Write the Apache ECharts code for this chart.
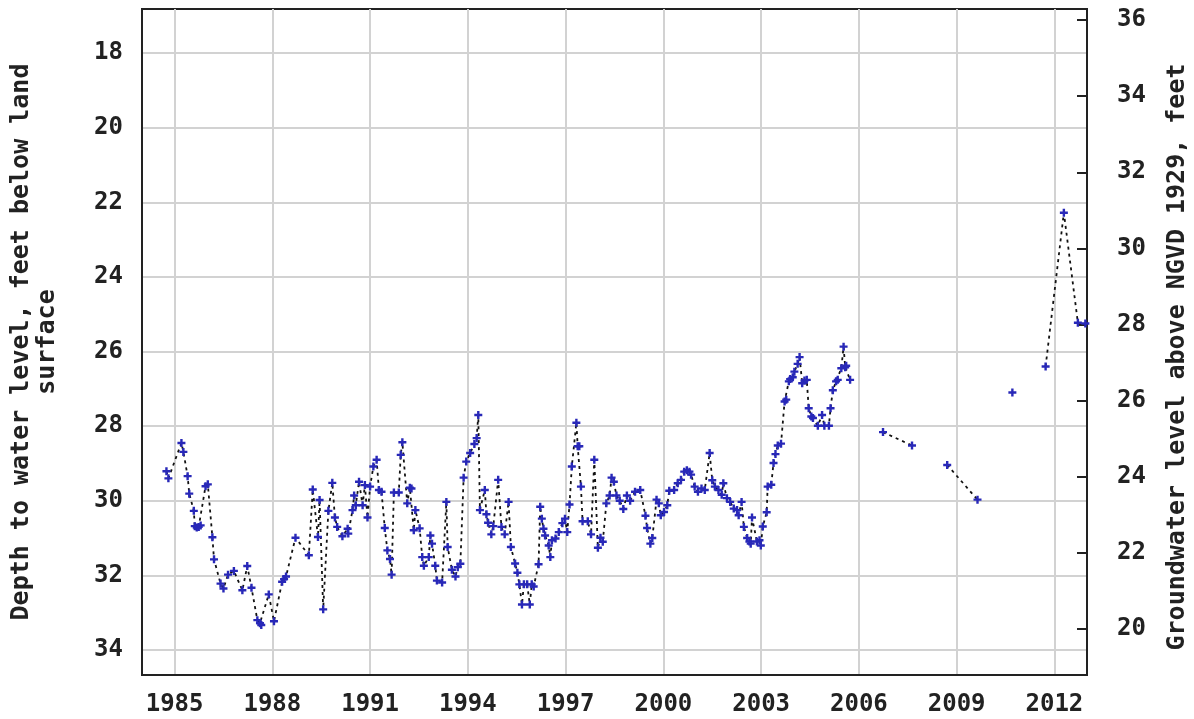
<!DOCTYPE html>
<html>
<head>
<meta charset="utf-8">
<script src="https://cdn.jsdelivr.net/npm/echarts@6/dist/echarts.min.js"></script>
<style>
html,body{margin:0;padding:0;background:#fff;}
#chart{width:1194px;height:719px;}
</style>
</head>
<body>
<div id="chart"></div>
<script>
// Decimal years of measurements (null marks a gap in the record)
const years = [
 1984.75,1984.81,1985.21,1985.27,1985.40,1985.45,1985.59,1985.62,1985.68,1985.74,1985.80,1985.95,1986.02,
 1986.16,1986.21,1986.41,1986.50,1986.64,1986.82,1987.08,1987.23,1987.36,1987.54,1987.62,1987.66,1987.89,
 1988.05,1988.30,1988.36,1988.42,1988.71,1989.12,1989.24,1989.40,1989.45,1989.56,1989.72,1989.84,1989.92,
 1989.99,1990.15,1990.31,1990.33,1990.46,1990.51,1990.56,1990.66,1990.77,1990.84,1990.92,1991.00,1991.10,
 1991.20,1991.27,1991.35,1991.45,1991.53,1991.61,1991.66,1991.73,1991.88,1991.94,1991.99,1992.14,1992.22,
 1992.27,1992.34,1992.39,1992.52,1992.60,1992.65,1992.80,1992.85,1992.90,1993.00,1993.05,1993.21,1993.34,
 1993.38,1993.51,1993.62,1993.69,1993.77,1993.87,1993.95,1994.07,1994.20,1994.27,1994.32,1994.37,1994.52,
 1994.57,1994.62,1994.72,1994.78,1994.93,1995.03,1995.13,1995.25,1995.32,1995.45,1995.52,1995.58,1995.66,
 1995.72,1995.82,1995.90,1995.96,1996.02,1996.17,1996.22,1996.27,1996.32,1996.37,1996.48,1996.53,1996.58,
 1996.69,1996.79,1996.90,1996.98,1997.05,1997.12,1997.19,1997.33,1997.37,1997.42,1997.47,1997.52,1997.68,
 1997.78,1997.88,1997.99,1998.07,1998.14,1998.25,1998.35,1998.41,1998.48,1998.56,1998.66,1998.77,1998.88,
 1998.98,1999.13,1999.29,1999.45,1999.50,1999.60,1999.66,1999.79,1999.86,1999.92,2000.02,2000.12,2000.18,
 2000.33,2000.44,2000.54,2000.64,2000.72,2000.80,2000.85,2000.96,2001.06,2001.17,2001.27,2001.42,2001.50,
 2001.58,2001.69,2001.79,2001.84,2001.95,2002.05,2002.16,2002.26,2002.31,2002.40,2002.47,2002.57,2002.64,
 2002.68,2002.72,2002.87,2002.95,2002.99,2003.05,2003.17,2003.20,2003.31,2003.38,2003.44,2003.51,2003.61,
 2003.72,2003.77,2003.85,2003.89,2003.97,2004.02,2004.12,2004.18,2004.26,2004.33,2004.40,2004.46,2004.54,
 2004.59,2004.74,2004.87,2004.94,2005.08,2005.13,2005.20,2005.30,2005.35,2005.46,2005.53,2005.58,2005.61,
 2005.73,null,2006.74,2007.63,null,2008.71,2009.64,null,2010.71,null,2011.73,2012.29,2012.72,2012.95
];
// Depth to water level, feet below land surface
const depths = [
 29.21,29.40,28.45,28.69,29.34,29.81,30.27,30.68,30.72,30.70,30.66,29.61,29.56,
 30.98,31.57,32.22,32.35,31.98,31.88,32.40,31.75,32.33,33.20,33.28,33.33,32.51,
 33.23,32.17,32.10,32.03,30.99,31.46,29.70,30.97,29.98,32.91,30.27,29.52,30.45,
 30.70,30.95,30.75,30.88,30.25,29.86,30.12,29.49,30.12,29.58,30.45,29.62,29.08,
 28.90,29.71,29.76,30.73,31.33,31.56,31.98,29.78,29.78,28.77,28.43,30.07,29.65,
 29.67,30.79,30.25,30.74,31.51,31.74,31.51,30.93,31.15,31.74,32.14,32.19,30.03,
 31.24,31.85,32.03,31.78,31.69,29.38,28.95,28.72,28.48,28.32,27.70,30.25,29.71,
 30.36,30.59,30.90,30.68,29.44,30.70,30.90,30.03,31.24,31.68,31.93,32.24,32.78,
 32.24,32.24,32.78,32.24,32.30,31.70,30.16,30.48,30.75,30.93,31.20,31.51,31.06,
 31.01,30.84,30.60,30.48,30.84,30.10,29.08,27.91,28.54,28.54,29.62,30.55,30.55,
 30.90,28.90,31.26,30.99,31.10,30.07,29.86,29.38,29.49,29.86,30.00,30.22,29.86,
 30.00,29.76,29.71,30.40,30.73,31.15,31.00,29.97,30.07,30.39,30.30,30.12,29.73,
 29.71,29.53,29.44,29.22,29.18,29.22,29.30,29.62,29.76,29.67,29.71,28.72,29.45,
 29.62,29.71,29.84,29.53,29.93,30.03,30.21,30.25,30.39,30.03,30.70,31.00,31.09,
 31.15,30.45,31.09,31.06,31.20,30.69,30.31,29.62,29.57,28.99,28.75,28.52,28.47,
 27.34,27.29,26.80,26.74,26.69,26.54,26.33,26.15,26.85,26.78,26.76,27.52,27.74,
 27.78,27.99,27.70,27.99,27.99,27.52,27.04,26.80,26.76,26.45,25.87,26.42,26.38,
 26.76,null,28.16,28.52,null,29.04,29.97,null,27.10,null,26.40,22.28,25.23,25.25
];
const yearTicks = [1985,1988,1991,1994,1997,2000,2003,2006,2009,2012];
const depthTicks = [18,20,22,24,26,28,30,32,34];
const elevTicks = [20,22,24,26,28,30,32,34,36];

const seriesData = years.map((y, i) => (y === null ? [null, null] : [y, depths[i]]));

const FONT = 'DejaVu Sans Mono';
const labelStyle = {fontFamily: FONT, fontWeight: 'bold', fontSize: 24, color: '#222'};
const plusPath = 'path://M3.5,0H6.5V3.5H10V6.5H6.5V10H3.5V6.5H0V3.5H3.5Z';

const chart = echarts.init(document.getElementById('chart'), null, {renderer: 'canvas'});
chart.setOption({
  animation: false,
  backgroundColor: '#fff',
  grid: {left: 142, top: 9, right: 107, bottom: 44, show: true, borderColor: '#222', borderWidth: 2,
         containLabel: false, outerBoundsMode: 'none'},
  xAxis: {
    type: 'value', min: 1984.0, max: 2013.0,
    axisLine: {show: true, lineStyle: {color: '#222', width: 2}},
    axisTick: {show: false, customValues: yearTicks},
    axisLabel: Object.assign({customValues: yearTicks, margin: 18, formatter: v => String(v)}, labelStyle),
    splitLine: {show: true, lineStyle: {color: '#d2d2d2', width: 2}}
  },
  yAxis: [
    {
      type: 'value', inverse: true, min: 16.82, max: 34.67, position: 'left',
      name: 'Depth to water level, feet below land\nsurface',
      nameLocation: 'middle', nameRotate: 90, nameGap: 82,
      nameTextStyle: {fontFamily: FONT, fontWeight: 'bold', fontSize: 25, color: '#222', lineHeight: 26, align: 'center'},
      axisLine: {show: true, lineStyle: {color: '#222', width: 2}},
      axisTick: {show: false, customValues: depthTicks},
      axisLabel: Object.assign({customValues: depthTicks, margin: 19}, labelStyle),
      splitLine: {show: true, lineStyle: {color: '#d2d2d2', width: 2}}
    },
    {
      type: 'value', min: 18.79, max: 36.29, position: 'right',
      name: 'Groundwater level above NGVD 1929, feet',
      nameLocation: 'middle', nameRotate: 90, nameGap: 78,
      nameTextStyle: {fontFamily: FONT, fontWeight: 'bold', fontSize: 25, color: '#222', padding: [0, 30, 0, 0]},
      axisLine: {show: true, lineStyle: {color: '#222', width: 2}},
      axisTick: {show: true, inside: true, length: 10, customValues: elevTicks, lineStyle: {color: '#222', width: 2}},
      axisLabel: Object.assign({customValues: elevTicks, margin: 30}, labelStyle),
      splitLine: {show: false}
    }
  ],
  series: [{
    type: 'line',
    xAxisIndex: 0, yAxisIndex: 0,
    data: seriesData,
    connectNulls: false,
    symbol: plusPath,
    symbolSize: 8,
    showSymbol: true,
    itemStyle: {color: '#2828b8'},
    lineStyle: {color: '#111', width: 1.8, type: [3, 4]},
    emphasis: {disabled: true}
  }]
});
</script>
</body>
</html>
